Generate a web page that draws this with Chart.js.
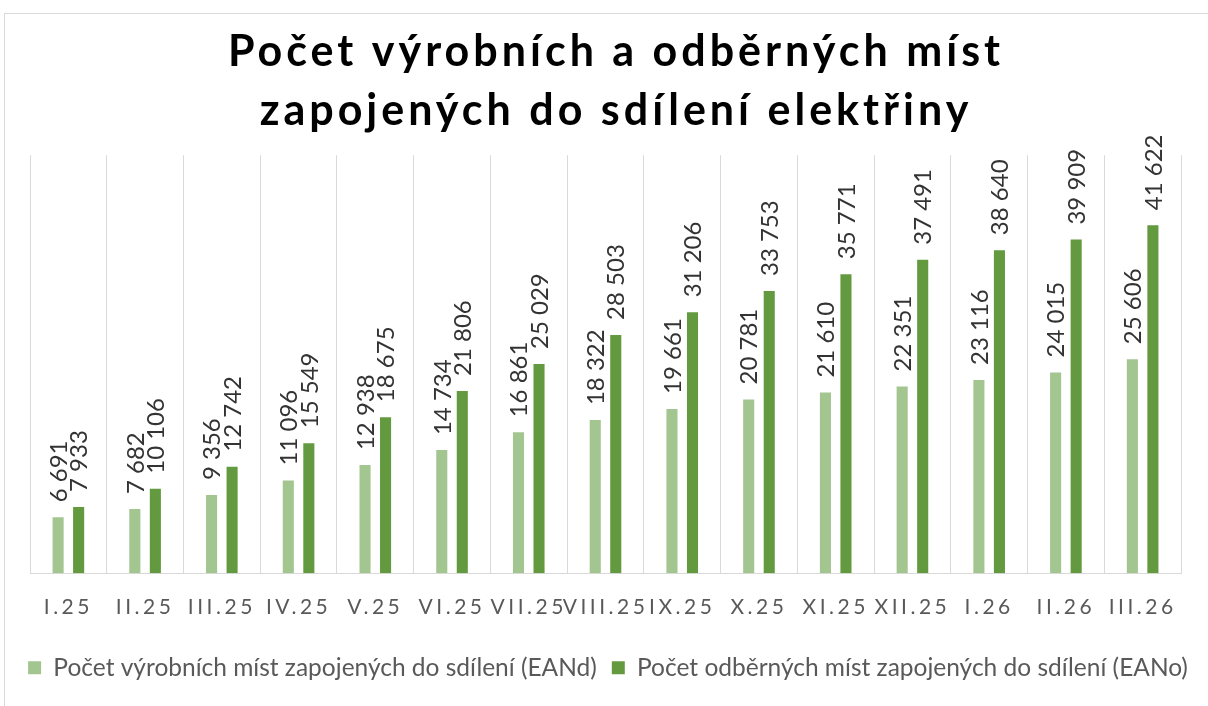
<!DOCTYPE html>
<html>
<head>
<meta charset="utf-8">
<script src="https://cdn.jsdelivr.net/npm/chart.js@4/dist/chart.umd.min.js"></script>
<style>
  html, body { margin: 0; padding: 0; background: #fff; overflow: hidden; }
  #wrap { position: relative; width: 1208px; height: 706px; }
  #frame { position: absolute; left: 4px; top: 13px; width: 1240px; height: 740px; border: 1px solid #d9d9d9; pointer-events: none; }
  canvas { position: absolute; left: 0; top: 0; }
</style>
</head>
<body>
<div id="wrap">
  <canvas id="chart" width="1208" height="706"></canvas>
  <div id="frame"></div>
</div>
<script>
const months = ['I.25', 'II.25', 'III.25', 'IV.25', 'V.25', 'VI.25', 'VII.25', 'VIII.25',
    'IX.25', 'X.25', 'XI.25', 'XII.25', 'I.26', 'II.26', 'III.26'];
const vyrobni = [6691, 7682, 9356, 11096, 12938, 14734, 16861, 18322, 19661, 20781, 21610, 22351, 23116, 24015, 25606];
const odberna = [7933, 10106, 12742, 15549, 18675, 21806, 25029, 28503, 31206, 33753, 35771, 37491, 38640, 39909, 41622];
const seriesNames = ['Počet výrobních míst zapojených do sdílení (EANd)', 'Počet odběrných míst zapojených do sdílení (EANo)'];
const titleLines = ['Počet výrobních a odběrných míst', 'zapojených do sdílení elektřiny'];

const fmt = v => String(v).replace(/\B(?=(\d{3})+(?!\d))/g, ' ');

// letter spacing: ticks and title are spaced, legend is not
const spacing = {
    id: 'spacing',
    beforeLayout(chart) {
        const wrap = (box, sp, dx) => {
            if (!box || box._spWrapped) return;
            const orig = box.draw;
            box.draw = function () {
                const c = this.ctx;
                const prev = c.letterSpacing;
                c.save();
                c.translate(dx, 0);
                c.letterSpacing = sp;
                orig.apply(this, arguments);
                c.restore();
                c.letterSpacing = prev;
            };
            box._spWrapped = true;
        };
        wrap(chart.titleBlock, '4px', 12);
        wrap(chart.legend, '0px', 4);
    },
    beforeDraw(chart) {
        chart.ctx.letterSpacing = '3.5px';
    },
    afterDraw(chart) {
        chart.ctx.letterSpacing = '0px';
    }
};

// rotated value labels above each bar
const barLabels = {
    id: 'barLabels',
    afterDatasetsDraw(chart) {
        const ctx = chart.ctx;
        ctx.save();
        ctx.letterSpacing = '0px';
        ctx.font = '24px Lato';
        ctx.fillStyle = '#333333';
        ctx.textAlign = 'left';
        ctx.textBaseline = 'middle';
        chart.data.datasets.forEach((ds, i) => {
            const meta = chart.getDatasetMeta(i);
            meta.data.forEach((bar, j) => {
                ctx.save();
                ctx.translate(bar.x + 1, bar.y - 15);
                ctx.rotate(-Math.PI / 2);
                ctx.fillText(fmt(ds.data[j]), 0, 0);
                ctx.restore();
            });
        });
        ctx.restore();
    }
};

const ctx = document.getElementById('chart').getContext('2d');
new Chart(ctx, {
    type: 'bar',
    data: {
        labels: months,
        datasets: [
            {
                label: seriesNames[0],
                data: vyrobni,
                backgroundColor: '#A3C590',
                categoryPercentage: 0.535,
                barPercentage: 0.54
            },
            {
                label: seriesNames[1],
                data: odberna,
                backgroundColor: '#639A3F',
                categoryPercentage: 0.535,
                barPercentage: 0.54
            }
        ]
    },
    options: {
        responsive: false,
        animation: false,
        layout: {
            padding: { left: 4, right: 4, top: 0, bottom: 16 }
        },
        plugins: {
            title: {
                display: true,
                text: titleLines,
                color: '#000',
                font: { family: 'Lato', size: 43, weight: 'bold', lineHeight: 1.38 },
                padding: { top: 22, bottom: 14.5 }
            },
            legend: {
                position: 'bottom',
                labels: {
                    boxWidth: 13,
                    boxHeight: 13,
                    color: '#595959',
                    font: { family: 'Lato', size: 24.5 },
                    padding: 15
                }
            },
            tooltip: { enabled: false }
        },
        scales: {
            x: {
                grid: {
                    display: true,
                    offset: true,
                    color: '#d9d9d9',
                    drawTicks: false
                },
                border: { display: true, color: '#d9d9d9' },
                ticks: {
                    autoSkip: false,
                    maxRotation: 0,
                    minRotation: 0,
                    padding: 21,
                    color: '#595959',
                    font: { family: 'Lato', size: 21 }
                }
            },
            y: {
                position: 'left',
                min: 0,
                max: 50000,
                grid: { display: false },
                border: { display: false },
                ticks: { display: false },
                afterFit(scale) { scale.width = 26; }
            },
            yRight: {
                position: 'right',
                grid: { display: false },
                border: { display: false },
                ticks: { display: false },
                afterFit(scale) { scale.width = 23; }
            }
        }
    },
    plugins: [spacing, barLabels]
});
</script>
</body>
</html>
